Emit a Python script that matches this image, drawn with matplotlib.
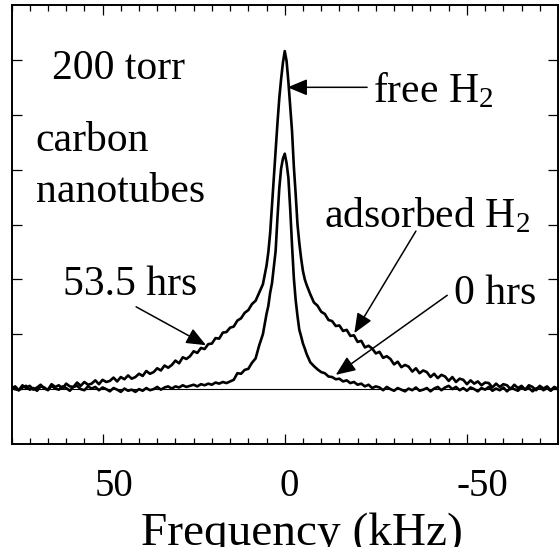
import numpy as np
import matplotlib
matplotlib.use("Agg")
import matplotlib.pyplot as plt
from matplotlib.transforms import ScaledTranslation

plt.rcParams['font.family'] = ['Liberation Serif', 'DejaVu Serif']
plt.rcParams['mathtext.fontset'] = 'custom'
plt.rcParams['mathtext.rm'] = 'Liberation Serif'
plt.rcParams['mathtext.it'] = 'Liberation Serif:italic'

# ---------------- data ----------------
freq_left = [75, 74, 73, 72, 71, 70, 69, 68, 67, 66, 65, 64, 63, 62, 61, 60, 59, 58, 57, 56,
             55, 54, 53, 52, 51, 50, 49, 48, 47, 46, 45, 44, 43, 42, 41, 40, 39, 38, 37, 36,
             35, 34, 33, 32, 31, 30, 29, 28, 27, 26, 25, 24, 23, 22, 21, 20, 19, 18, 17, 16,
             15, 14, 13, 12, 11, 10, 9, 8, 7, 6]
freq_center = [5.5, 5.0, 4.5, 4.0, 3.5, 3.0, 2.5, 2.0, 1.5, 1.0, 0.5, 0.0,
               -0.5, -1.0, -1.5, -2.0, -2.5, -3.0, -3.5, -4.0, -4.5, -5.0, -5.5]
freq_right = [-6, -7, -8, -9, -10, -11, -12, -13, -14, -15, -16, -17, -18, -19, -20, -21, -22,
              -23, -24, -25, -26, -27, -28, -29, -30, -31, -32, -33, -34, -35, -36, -37, -38,
              -39, -40, -41, -42, -43, -44, -45, -46, -47, -48, -49, -50, -51, -52, -53, -54,
              -55, -56, -57, -58, -59, -60, -61, -62, -63, -64, -65, -66, -67, -68, -69, -70,
              -71, -72, -73, -74, -75]

# 53.5 hrs spectrum (tall free-H2 peak with broad adsorbed wings)
hrs53_left = [1.05, 1.00, 0.98, 1.07, 1.02, 1.06, 0.99, 1.03, 1.08, 1.01,
              0.99, 1.09, 1.04, 1.07, 1.01, 1.10, 1.05, 1.04, 1.12, 1.06,
              1.13, 1.08, 1.10, 1.16, 1.09, 1.17, 1.13, 1.15, 1.21, 1.14,
              1.22, 1.18, 1.25, 1.19, 1.22, 1.28, 1.24, 1.33, 1.28, 1.31,
              1.38, 1.34, 1.43, 1.39, 1.44, 1.52, 1.47, 1.58, 1.55, 1.60,
              1.69, 1.66, 1.75, 1.73, 1.82, 1.83, 1.93, 1.92, 2.03, 2.04,
              2.12, 2.14, 2.25, 2.29, 2.39, 2.44, 2.55, 2.61, 2.76, 2.91]
hrs53_center = [3.08, 3.25, 3.50, 3.85, 4.35, 4.85, 5.35, 5.85, 6.30, 6.65, 6.95, 7.16,
                6.98, 6.60, 6.15, 5.70, 5.05, 4.55, 4.00, 3.66, 3.38, 3.15, 3.00]
hrs53_right = [2.90, 2.73, 2.58, 2.52, 2.41, 2.37, 2.26, 2.24, 2.15, 2.16,
               2.06, 2.08, 1.97, 1.98, 1.86, 1.88, 1.76, 1.79, 1.74, 1.65,
               1.68, 1.57, 1.60, 1.55, 1.45, 1.50, 1.40, 1.44, 1.41, 1.32,
               1.38, 1.29, 1.34, 1.31, 1.22, 1.28, 1.20, 1.26, 1.23, 1.15,
               1.22, 1.13, 1.19, 1.17, 1.09, 1.16, 1.10, 1.14, 1.07, 1.12,
               1.11, 1.03, 1.10, 1.04, 1.09, 1.07, 1.00, 1.08, 1.02, 1.06,
               0.99, 1.07, 1.04, 0.98, 1.06, 1.01, 1.05, 0.98, 1.04, 1.00]

# 0 hrs spectrum (narrower, lower peak)
hrs0_left = [1.01, 1.05, 0.98, 1.03, 1.06, 0.99, 1.02, 0.97, 1.05, 1.03,
             0.98, 1.06, 1.01, 0.99, 1.05, 1.02, 0.97, 1.04, 1.06, 1.00,
             0.98, 1.05, 1.01, 1.04, 0.98, 1.03, 1.00, 0.96, 1.02, 0.99,
             0.95, 1.01, 0.97, 0.99, 0.95, 1.00, 0.97, 1.02, 0.98, 1.00,
             1.04, 0.99, 1.03, 1.05, 1.01, 1.05, 1.03, 1.07, 1.04, 1.06,
             1.08, 1.05, 1.09, 1.07, 1.10, 1.08, 1.12, 1.10, 1.13, 1.11,
             1.14, 1.17, 1.29, 1.28, 1.35, 1.37, 1.48, 1.56, 1.80, 2.00]
hrs0_center = [2.18, 2.37, 2.52, 2.76, 2.93, 3.22, 3.52, 4.12, 4.66, 5.02, 5.20, 5.29,
               5.12, 4.85, 4.28, 3.62, 3.02, 2.62, 2.33, 2.08, 1.96, 1.83, 1.74]
hrs0_right = [1.64, 1.49, 1.42, 1.36, 1.31, 1.29, 1.23, 1.22, 1.18, 1.19,
              1.14, 1.16, 1.11, 1.13, 1.08, 1.10, 1.05, 1.08, 1.02, 1.05,
              1.03, 0.98, 1.04, 1.00, 0.97, 1.02, 0.99, 0.96, 1.01, 0.98,
              1.03, 0.97, 0.99, 1.02, 0.96, 1.01, 1.04, 0.98, 1.03, 1.06,
              1.00, 1.04, 0.98, 1.02, 0.97, 1.03, 1.00, 0.96, 1.02, 0.99,
              1.04, 0.97, 1.01, 0.98, 1.03, 0.96, 1.02, 1.00, 0.97, 1.03,
              0.99, 1.02, 0.96, 1.01, 1.04, 0.98, 1.02, 0.97, 1.03, 1.00]

baseline_level = 1.0
x_tick_values = [50, 0, -50]
x_tick_labels = ['50', '0', '-50']

freq = np.array(freq_left + freq_center + freq_right, dtype=float)
hrs53 = np.array(hrs53_left + hrs53_center + hrs53_right)
hrs0 = np.array(hrs0_left + hrs0_center + hrs0_right)

# ---------------- figure ----------------
fig = plt.figure(figsize=(5.59, 5.47), dpi=100)
ax = fig.add_axes([11.5 / 559, (547 - 444) / 547, (558 - 11.5) / 559, (444 - 5) / 547])

ax.axhline(baseline_level, color='black', lw=0.8, zorder=1)
ax.plot(freq, hrs53, color='black', lw=1.9, zorder=2)
ax.plot(freq, hrs0, color='black', lw=1.9, zorder=2)

ax.set_xlim(75, -75)
ax.set_ylim(0, 8)

ax.set_xticks(x_tick_values)
ax.set_xticklabels(x_tick_labels, fontsize=28)
ax.set_xticks(np.arange(-75, 76, 5), minor=True)
ax.set_yticks(np.arange(1, 8, 1))
ax.set_yticklabels([])
ax.tick_params(axis='x', which='major', direction='in', length=7.2, width=0.9,
               top=True, bottom=True, pad=17)
ax.tick_params(axis='x', which='minor', direction='in', length=4.6, width=0.9,
               top=True, bottom=True)
ax.tick_params(axis='y', which='major', direction='in', length=7.5, width=0.9,
               left=True, right=True)
for s in ax.spines.values():
    s.set_linewidth(1.4)

offsets_px = [11, 4, 15]
for lab, dx in zip(ax.get_xticklabels(), offsets_px):
    lab.set_transform(lab.get_transform() + ScaledTranslation(dx / 100, 0, fig.dpi_scale_trans))

fig.text(301.5 / 559, 2 / 547, 'Frequency (kHz)', ha='center', va='baseline', fontsize=34)

fs = 30
ax.text(64.0, 6.65, '200 torr', fontsize=fs, ha='left', va='baseline')
ax.text(68.4, 5.34, 'carbon', fontsize=fs, ha='left', va='baseline')
ax.text(68.4, 4.41, 'nanotubes', fontsize=fs, ha='left', va='baseline')
ax.text(61.0, 2.71, '53.5 hrs', fontsize=fs, ha='left', va='baseline')
ax.text(-24.3, 6.22, r'free H$_\mathrm{2}$', fontsize=fs, ha='left', va='baseline')
ax.text(-10.8, 3.94, r'adsorbed H$_\mathrm{2}$', fontsize=fs, ha='left', va='baseline')
ax.text(-46.5, 2.55, '0 hrs', fontsize=fs, ha='left', va='baseline')

ap = dict(arrowstyle='-|>,head_length=0.6,head_width=0.25', color='black', lw=1.1,
          mutation_scale=20, shrinkA=0, shrinkB=0)
ax.annotate('', xy=(-0.77, 6.50), xytext=(-22.6, 6.50), arrowprops=ap)
ax.annotate('', xy=(-19.1, 2.02), xytext=(-36.0, 3.88), arrowprops=ap)
ax.annotate('', xy=(-14.0, 1.26), xytext=(-44.6, 2.71), arrowprops=ap)
ax.annotate('', xy=(21.6, 1.80), xytext=(40.8, 2.50), arrowprops=ap)

fig.savefig('out.png', dpi=100)
